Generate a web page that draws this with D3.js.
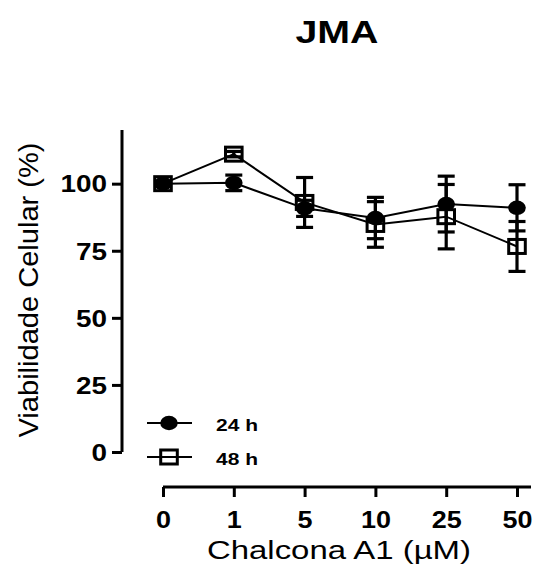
<!DOCTYPE html>
<html>
<head>
<meta charset="utf-8">
<script src="https://cdn.jsdelivr.net/npm/d3@7"></script>
<style>
  body { margin: 0; background: #fff; }
  svg { display: block; font-family: "Liberation Sans", Arial, sans-serif; }
</style>
</head>
<body>
<svg id="plotSvg" width="533" height="570"></svg>
<script>
// chart values
const doses = ["0", "1", "5", "10", "25", "50"];
const mean24 = [100, 100.3, 90.8, 87.2, 92.4, 91.0];
const err24 = [0, 2.9, 3.0, 7.7, 10.4, 8.6];
const mean48 = [100, 111.0, 93.0, 84.8, 87.7, 76.6];
const err48 = [0, 1.0, 9.3, 8.5, 12.0, 9.3];
const yTicks = [0, 25, 50, 75, 100];
const seriesNames = ["24 h", "48 h"];

const svg = d3.select("#plotSvg");

const x = d3.scalePoint()
    .domain(doses)
    .range([163, 517]);

const y = d3.scaleLinear()
    .domain([0, 120])
    .range([452, 130]);

const series = [
    { name: seriesNames[0], shape: "circle", data: doses.map((d, i) => ({ dose: d, v: mean24[i], e: err24[i] })) },
    { name: seriesNames[1], shape: "square", data: doses.map((d, i) => ({ dose: d, v: mean48[i], e: err48[i] })) }
];

// y axis
const yAxis = svg.append("g")
    .attr("transform", "translate(122,0)")
    .call(d3.axisLeft(y).tickValues(yTicks).tickSize(10).tickSizeOuter(0).tickPadding(5));
yAxis.select(".domain").attr("stroke-width", 3).attr("d", "M0," + y(120) + "V" + y(0));
yAxis.selectAll(".tick line").attr("stroke-width", 3);
yAxis.selectAll(".tick text")
    .attr("font-size", 23)
    .attr("font-weight", "bold")
    .attr("fill", "#000")
    .attr("dy", "0.36em")
    .attr("textLength", d => String(d).length * 15.5)
    .attr("lengthAdjust", "spacingAndGlyphs");

// x axis
const xAxis = svg.append("g")
    .attr("transform", "translate(0,487)")
    .call(d3.axisBottom(x).tickSize(10).tickSizeOuter(0).tickPadding(8));
xAxis.select(".domain").attr("stroke-width", 3).attr("d", "M163,0H531");
xAxis.selectAll(".tick line").attr("stroke-width", 3);
xAxis.selectAll(".tick text")
    .attr("font-size", 23)
    .attr("font-weight", "bold")
    .attr("fill", "#000")
    .attr("y", 41)
    .attr("dy", 0)
    .attr("textLength", d => d.length * 15)
    .attr("lengthAdjust", "spacingAndGlyphs");

// titles
svg.append("text")
    .attr("x", 337)
    .attr("y", 43)
    .attr("text-anchor", "middle")
    .attr("font-size", 32)
    .attr("font-weight", "bold")
    .attr("textLength", 83)
    .attr("lengthAdjust", "spacingAndGlyphs")
    .text("JMA");

svg.append("text")
    .attr("x", 339)
    .attr("y", 559)
    .attr("text-anchor", "middle")
    .attr("font-size", 25)
    .attr("textLength", 264)
    .attr("lengthAdjust", "spacingAndGlyphs")
    .text("Chalcona A1 (µM)");

svg.append("text")
    .attr("transform", "translate(38,290)rotate(-90)")
    .attr("text-anchor", "middle")
    .attr("font-size", 27)
    .attr("textLength", 295)
    .attr("lengthAdjust", "spacingAndGlyphs")
    .text("Viabilidade Celular (%)");

// marker drawing helper (figure is slightly stretched horizontally)
function drawMarker(g, shape, cx, cy) {
    if (shape == "circle") {
        g.append("ellipse")
            .attr("cx", cx).attr("cy", cy)
            .attr("rx", 8.8).attr("ry", 7.2)
            .attr("fill", "#000");
    } else {
        g.append("rect")
            .attr("x", cx - 8.3).attr("y", cy - 7)
            .attr("width", 16.6).attr("height", 14)
            .attr("fill", "none")
            .attr("stroke", "#000")
            .attr("stroke-width", 3);
    }
}

const line = d3.line()
    .x(d => x(d.dose))
    .y(d => y(d.v));

const plot = svg.append("g");

series.forEach(function (s) {
    const g = plot.append("g");

    // error bars
    const eb = g.selectAll(".eb")
        .data(s.data.filter(d => d.e > 0))
        .join("g")
        .attr("stroke", "#000")
        .attr("stroke-width", 3.2);
    eb.append("line")
        .attr("x1", d => x(d.dose)).attr("x2", d => x(d.dose))
        .attr("y1", d => y(d.v + d.e)).attr("y2", d => y(d.v - d.e));
    eb.append("line")
        .attr("x1", d => x(d.dose) - 8.5).attr("x2", d => x(d.dose) + 8.5)
        .attr("y1", d => y(d.v + d.e)).attr("y2", d => y(d.v + d.e));
    eb.append("line")
        .attr("x1", d => x(d.dose) - 8.5).attr("x2", d => x(d.dose) + 8.5)
        .attr("y1", d => y(d.v - d.e)).attr("y2", d => y(d.v - d.e));

    g.append("path")
        .datum(s.data)
        .attr("d", line)
        .attr("fill", "none")
        .attr("stroke", "#000")
        .attr("stroke-width", 2);

    s.data.forEach(d => drawMarker(g, s.shape, x(d.dose), y(d.v)));
});

// legend
const legendY = [423, 457];
series.forEach(function (s, i) {
    const lg = svg.append("g");
    lg.append("line")
        .attr("x1", 147).attr("x2", 192)
        .attr("y1", legendY[i]).attr("y2", legendY[i])
        .attr("stroke", "#000")
        .attr("stroke-width", 2);
    drawMarker(lg, s.shape, 169, legendY[i]);
    lg.append("text")
        .attr("x", 216)
        .attr("y", legendY[i] + 8)
        .attr("font-size", 17)
        .attr("font-weight", "bold")
        .attr("textLength", 42)
        .attr("lengthAdjust", "spacingAndGlyphs")
        .text(s.name);
});
</script>
</body>
</html>
